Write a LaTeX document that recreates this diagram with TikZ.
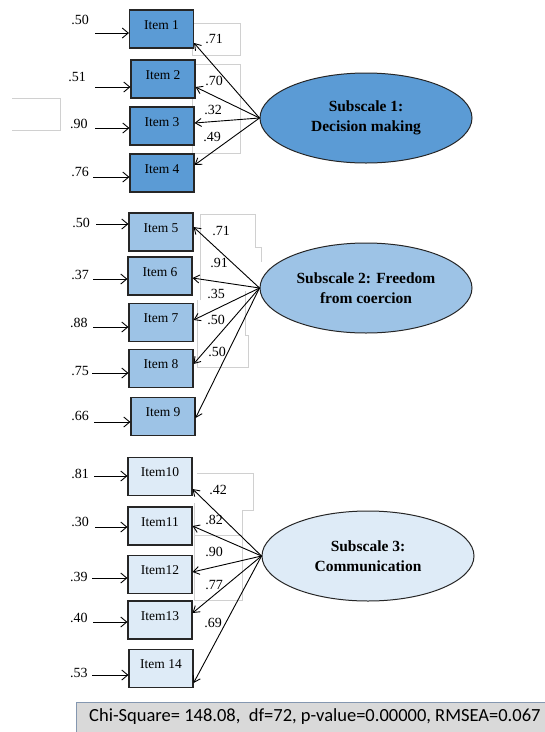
\documentclass[tikz,border=0pt]{standalone}
\usepackage{fontspec}
\setmainfont{Liberation Serif}
\newfontfamily\calib{Carlito}
\usetikzlibrary{arrows.meta,shapes.geometric,calc}
\definecolor{gA}{HTML}{5B9BD5}
\definecolor{gB}{HTML}{9DC3E6}
\definecolor{gC}{HTML}{DEEBF7}
\definecolor{ghost}{HTML}{D0D0D0}
\definecolor{chifill}{HTML}{D9D9D9}
\definecolor{chiedge}{HTML}{8497B0}
\tikzset{
  itembox/.style={draw=black!85, line width=1.1pt, minimum width=64pt, minimum height=38pt, inner sep=0pt, text height=9pt, text depth=9pt, font=\fontsize{13.5}{15}\selectfont},
  factor/.style={ellipse, draw=black!85, line width=1pt, minimum width=212pt, minimum height=90pt, inner sep=0pt, align=center, font=\bfseries\fontsize{15.5}{20}\selectfont},
  num/.style={inner sep=0pt, font=\fontsize{14}{15}\selectfont},
  err/.style={line width=0.9pt, -{Straight Barb[length=6pt,width=10pt]}},
  load/.style={line width=0.9pt, -{Straight Barb[length=6pt,width=8pt]}},
  ghostline/.style={draw=ghost, line width=0.6pt}
}
\begin{document}
\begin{tikzpicture}[x=1pt,y=-1pt]
\useasboundingbox (0,0) rectangle (545,732);
% faint leftover outlines
\draw[ghostline] (12,98) -- (60,98) -- (60,130) -- (12,130);
\draw[ghostline] (192,23) rectangle (240,55);
\draw[ghostline] (192,64) rectangle (240,153);
\draw[ghostline] (200,300) -- (200,214) -- (255,214) -- (255,247) -- (261,247) -- (261,262);
\draw[ghostline] (245,291) -- (245,335) -- (248,335) -- (248,367) -- (197,367) -- (197,300);
\draw[ghostline] (197,473) -- (253,473) -- (253,510) -- (242,510) -- (242,600) -- (194,600) -- (194,503);
\draw[ghostline] (194,535) -- (242,535);

% chi-square box
\node[draw=chiedge, fill=chifill, line width=0.8pt, minimum width=475pt, minimum height=34pt, inner sep=0pt, anchor=north west] (chi) at (76,702) {};
\node[anchor=west, inner sep=0pt, font=\calib\fontsize{18.5}{20}\selectfont] (chitext) at (89,717) {Chi-Square= 148.08,\ \ df=72, p-value=0.00000, RMSEA=0.067};

% factors
\node[factor, fill=gA] (e1) at (366,118) {Subscale 1:\\Decision making};
\node[factor, fill=gB] (e2) at (366,288) {Subscale 2: Freedom\\from coercion};
\node[factor, fill=gC] (e3) at (368,556) {Subscale 3:\\Communication};

% items
\node[itembox, fill=gA] (i1) at (161.5,29) {Item 1};
\node[itembox, fill=gA] (i2) at (163,79) {Item 2};
\node[itembox, fill=gA] (i3) at (162,126) {Item 3};
\node[itembox, fill=gA] (i4) at (162,173) {Item 4};
\node[itembox, fill=gB] (i5) at (161,232) {Item 5};
\node[itembox, fill=gB] (i6) at (160,276) {Item 6};
\node[itembox, fill=gB] (i7) at (161,322.5) {Item 7};
\node[itembox, fill=gB] (i8) at (161,368.5) {Item 8};
\node[itembox, fill=gB] (i9) at (163,416.5) {Item 9};
\node[itembox, fill=gC] (i10) at (160,476.5) {Item10};
\node[itembox, fill=gC] (i11) at (160,526) {Item11};
\node[itembox, fill=gC] (i12) at (160,574.5) {Item12};
\node[itembox, fill=gC] (i13) at (160,620) {Item13};
\node[itembox, fill=gC] (i14) at (161,668.5) {Item 14};

% error arrows
\foreach \k/\x/\y in {1/95/33, 2/95/87, 3/95/128, 4/93/177, 5/96/224, 6/93/279, 7/93/327, 8/92/373, 9/94/422, 10/94/476, 11/95/527, 12/92/578, 13/93/622, 14/92/675}{
  \coordinate (s\k) at (\x,\y);
  \draw[err] (s\k) -- (s\k -| i\k.west);
}
% error variances
\node[num] (v1) at (80,20) {.50};
\node[num] (v2) at (77,77) {.51};
\node[num] (v3) at (79,124) {.90};
\node[num] (v4) at (80,172) {.76};
\node[num] (v5) at (81,223) {.50};
\node[num] (v6) at (80,275) {.37};
\node[num] (v7) at (79,323) {.88};
\node[num] (v8) at (80,371) {.75};
\node[num] (v9) at (80,416) {.66};
\node[num] (v10) at (80,474) {.81};
\node[num] (v11) at (80,522) {.30};
\node[num] (v12) at (79,577) {.39};
\node[num] (v13) at (79,618) {.40};
\node[num] (v14) at (79,673) {.53};

% loadings
\draw[load] (e1.west) -- ([yshift=-14pt]i1.east);
\draw[load] (e1.west) -- ([yshift=-8pt]i2.east);
\draw[load] (e1.west) -- ([yshift=3pt]i3.east);
\draw[load] (e1.west) -- ([yshift=8pt]i4.east);
\draw[load] (e2.west) -- ([yshift=5pt]i5.east);
\draw[load] (e2.west) -- ([yshift=-2pt]i6.east);
\draw[load] (e2.west) -- ([yshift=2.5pt]i7.east);
\draw[load] (e2.west) -- ([yshift=4.5pt]i8.east);
\draw[load] (e2.west) -- ([yshift=-1.5pt]i9.east);
\draw[load] (e3.west) -- ([yshift=-12.5pt]i10.east);
\draw[load] (e3.west) -- (i11.east);
\draw[load] (e3.west) -- ([yshift=2.5pt]i12.east);
\draw[load] (e3.west) -- ([yshift=7pt]i13.east);
\draw[load] (e3.west) -- ([yshift=-14.5pt]i14.east);

\node[num] (l1) at (214,39) {.71};
\node[num] (l2) at (214,81) {.70};
\node[num] (l3) at (213,110) {.32};
\node[num] (l4) at (212,137) {.49};
\node[num] (l5) at (221,231) {.71};
\node[num] (l6) at (219,263) {.91};
\node[num] (l7) at (216,294) {.35};
\node[num] (l8) at (216,320) {.50};
\node[num] (l9) at (217,352) {.50};
\node[num] (l10) at (218,490) {.42};
\node[num] (l11) at (214,520) {.82};
\node[num] (l12) at (214,552) {.90};
\node[num] (l13) at (214,585) {.77};
\node[num] (l14) at (213,623) {.69};
\end{tikzpicture}
\end{document}
